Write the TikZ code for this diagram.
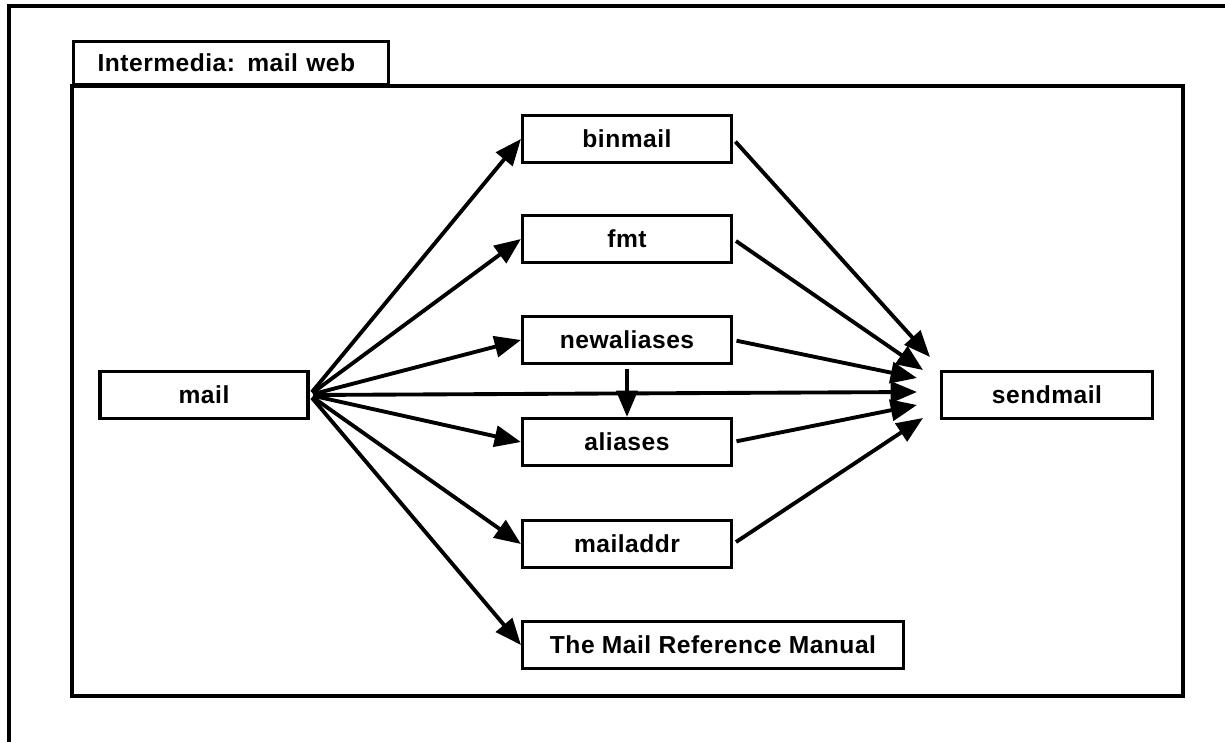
\documentclass[tikz,border=0pt]{standalone}
\usepackage{fontspec}
\setmainfont{Liberation Sans}[LetterSpace=2]
\usetikzlibrary{arrows.meta}

\begin{document}
\begin{tikzpicture}[x=0.02cm, y=-0.02cm, >={Triangle[length=15pt,width=12pt]}]
    \tikzstyle{elem}=[font=\fontsize{14}{16}\selectfont\bfseries, line width=1.8pt, inner sep=0pt, minimum height=0.94cm]
    \tikzstyle{link}=[line width=2.2pt, ->, shorten <=2pt]
  \useasboundingbox (0,0) rectangle (1225,742);

  %% window frame
  \draw[line width=1.8pt] (9,742) -- (9,6) -- (1225,6);
  \draw[line width=2pt] (72,86) rectangle (1183,696);
  \node (title) at (72,86) [elem,draw,rectangle, anchor=south west, minimum height=0.86cm, text width=5.34cm, inner xsep=0.48cm, align=left] {Intermedia: mail web};

  \node (mail) at (204,395) [elem,draw,rectangle, minimum width=4.16cm] {mail};
  \node (binmail) at (627,139) [elem,draw,rectangle, minimum width=4.18cm] {binmail};
  \node (fmt) at (627,239) [elem,draw,rectangle, minimum width=4.18cm] {fmt};
  \node (newaliases) at (627,340) [elem,draw,rectangle, minimum width=4.18cm] {newaliases};
  \node (aliases) at (627,442) [elem,draw,rectangle, minimum width=4.18cm] {aliases};
  \node (mailaddr) at (627,544) [elem,draw,rectangle, minimum width=4.18cm] {mailaddr};
  \node (manual) at (713,645) [elem,draw,rectangle, minimum width=7.62cm] {The Mail Reference Manual};
  \node (sendmail) at (1047,395) [elem,draw,rectangle, minimum width=4.22cm] {sendmail};

  %% arrow tips in front of sendmail
  \coordinate (sm1) at (930,357);
  \coordinate (sm2) at (923,370);
  \coordinate (sm3) at (917,378);
  \coordinate (sm4) at (917,392);
  \coordinate (sm5) at (917,405);
  \coordinate (sm6) at (923,418);

  \draw[link] (mail.east) -- (binmail.west);
  \draw[link] (mail.east) -- (fmt.west);
  \draw[link] (mail.east) -- (newaliases.west);
  \draw[link] (mail.east) -- (sm4);
  \draw[link] (mail.east) -- (aliases.west);
  \draw[link] (mail.east) -- (mailaddr.west);
  \draw[link] (mail.east) -- (manual.west);

  \draw[link] (newaliases.south) -- (aliases.north);

  \draw[link] (binmail.east) -- (sm1);
  \draw[link] (fmt.east) -- (sm2);
  \draw[link] (newaliases.east) -- (sm3);
  \draw[link] (aliases.east) -- (sm5);
  \draw[link] (mailaddr.east) -- (sm6);
\end{tikzpicture}
\end{document}
